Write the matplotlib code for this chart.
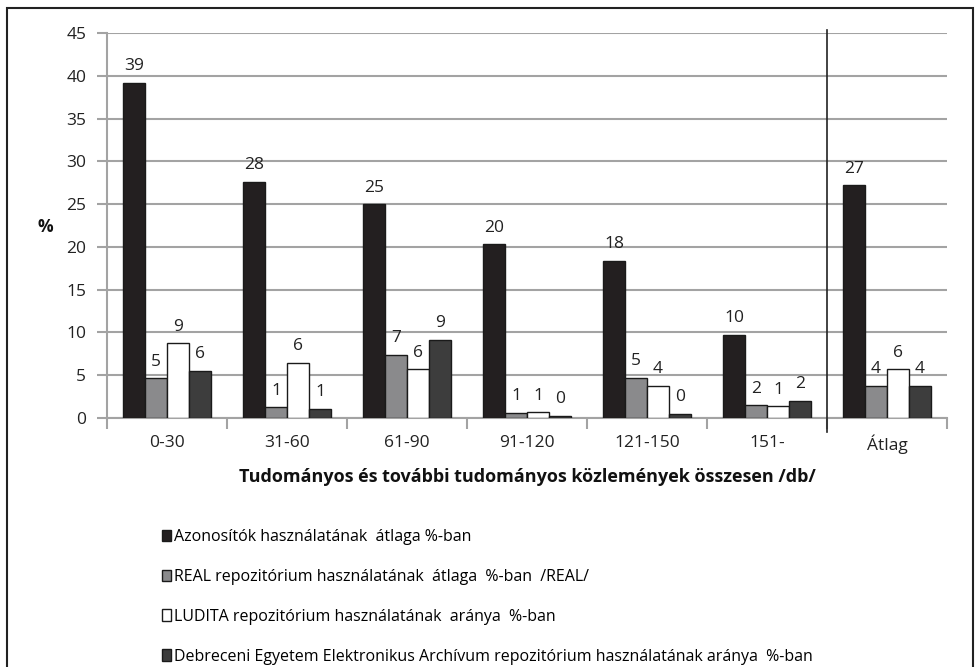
import numpy as np
import matplotlib
matplotlib.use('Agg')
import matplotlib.pyplot as plt
from matplotlib.patches import Rectangle, Patch

plt.rcParams['font.family'] = ['Open Sans', 'DejaVu Sans']

categories = ['0-30', '31-60', '61-90', '91-120', '121-150', '151-', 'Átlag']
azonositok = [39.15, 27.6, 25.0, 20.3, 18.4, 9.7, 27.2]
real = [4.64, 1.25, 7.36, 0.62, 4.7, 1.5, 3.74]
ludita = [8.73, 6.43, 5.69, 0.66, 3.74, 1.37, 5.69]
debreceni = [5.55, 1.09, 9.12, 0.27, 0.47, 2.02, 3.74]

series_labels = ['Azonosítók használatának  átlaga %-ban',
                 'REAL repozitórium használatának  átlaga  %-ban  /REAL/',
                 'LUDITA repozitórium használatának  aránya  %-ban',
                 'Debreceni Egyetem Elektronikus Archívum repozitórium használatának aránya  %-ban']
colors = ['#231f20', '#8a8a8c', '#ffffff', '#3d3d3d']

fig = plt.figure(figsize=(9.78, 6.67), dpi=100)
ax = fig.add_axes([107/978, 1-418/667, 840/978, 385/667])

x = np.arange(len(categories))
w = 0.183
all_series = [azonositok, real, ludita, debreceni]
for i, (vals, c) in enumerate(zip(all_series, colors)):
    pos = x + (i - 1.5) * w
    ax.bar(pos, vals, w, color=c, edgecolor='#1a1a1a', linewidth=1.0, zorder=3)
    for px, v in zip(pos, vals):
        ax.text(px, v + 1.0, '%d' % int(round(v)), ha='center', va='bottom',
                fontsize=12.5, color='#222222')

ax.set_xlim(-0.5, 6.5)
ax.set_ylim(0, 45)
ax.set_yticks(range(0, 46, 5))
ax.yaxis.grid(True, color='#a3a3a3', linewidth=1.5, zorder=0)
ax.set_axisbelow(True)
for s in ['top', 'right']:
    ax.spines[s].set_visible(False)
ax.spines['left'].set_color('#a3a3a3')
ax.spines['bottom'].set_color('#a3a3a3')
ax.spines['left'].set_linewidth(1.5)
ax.spines['bottom'].set_linewidth(1.5)

ax.set_xticks(x)
ax.set_xticklabels(categories)
ax.set_xticks(np.arange(-0.5, 7, 1), minor=True)
ax.tick_params(axis='x', which='major', length=0, labelsize=12.5, pad=12, colors='#222222')
ax.tick_params(axis='x', which='minor', length=8, width=1.5, color='#a3a3a3')
ax.tick_params(axis='y', length=7, width=1.5, color='#a3a3a3', labelsize=12.5, pad=8,
               labelcolor='#222222')

# separator before the average group
ax.plot([5.5, 5.5], [-1.6, 45.4], color='#222222', linewidth=1.2, clip_on=False, zorder=4)

ax.set_xlabel('Tudományos és további tudományos közlemények összesen /db/',
              fontsize=13, fontweight='bold', labelpad=10, color='#111111')
fig.text(45/978, 1-227/667, '%', fontsize=12.5, fontweight='bold', ha='center', va='center',
         color='#111111')

handles = [Patch(facecolor=c, edgecolor='#1a1a1a', linewidth=1.0) for c in colors]
fig.legend(handles, series_labels, loc='upper left', bbox_to_anchor=(162/978, 1-529/667),
           frameon=False, fontsize=11.5, handlelength=0.55, handleheight=0.75,
           handletextpad=0.2, labelspacing=1.5, borderpad=0, borderaxespad=0)

fig.patches.append(Rectangle((7/978, -0.05), 966/978, 1.05 - 8/667, transform=fig.transFigure,
                             fill=False, edgecolor='#222222', linewidth=1.5))

fig.savefig('out.png', dpi=100)
